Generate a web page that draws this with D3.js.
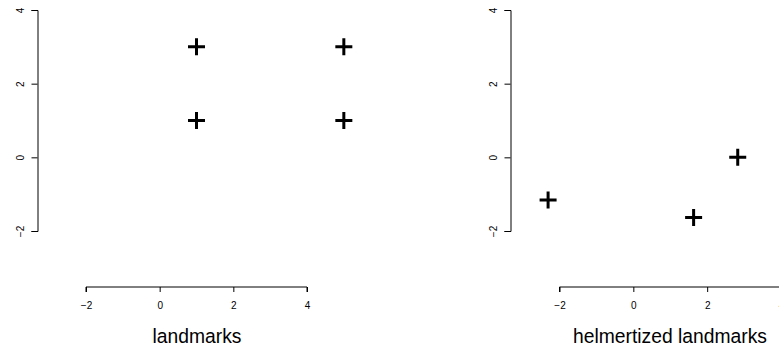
<!DOCTYPE html>
<html>
<head>
<meta charset="utf-8">
<script src="https://cdn.jsdelivr.net/npm/d3@7"></script>
<style>
  html, body { margin: 0; padding: 0; background: #fff; }
  svg { display: block; font-family: "Liberation Sans", Arial, Helvetica, sans-serif; }
</style>
</head>
<body>
<svg id="chart" width="779" height="353"></svg>
<script>
// landmarks (x, y)
const landmarkX = [1, 5, 5, 1];
const landmarkY = [3, 3, 1, 1];

// helmertized landmarks (x, y)
const helmertX = [2.828, 1.633, -2.309];
const helmertY = [0, -1.633, -1.155];

const tickValues = [-2, 0, 2, 4];
const titles = ["landmarks", "helmertized landmarks"];

const svg = d3.select("#chart");
const fontFam = "Liberation Sans, Arial, Helvetica, sans-serif";

// panel layout: x range for the -2..4 axis, y-axis position, title centre
const panels = [
  { xs: landmarkX, ys: landmarkY, xRange: [86, 307], yAxisX: 37.5, titleX: 197, title: titles[0] },
  { xs: helmertX, ys: helmertY, xRange: [559.5, 781], yAxisX: 510.5, titleX: 670, title: titles[1] }
];

const y = d3.scaleLinear().domain([-2, 4]).range([231, 10]);
const xAxisY = 287;
const fmt = d => d < 0 ? "\u2212" + Math.abs(d) : d;

panels.forEach(p => {
  const x = d3.scaleLinear().domain([-2, 4]).range(p.xRange);
  const g = svg.append("g");

  // y axis
  const ya = g.append("g").attr("transform", `translate(${p.yAxisX},0)`);
  ya.call(d3.axisLeft(y).tickValues(tickValues).tickSize(6).tickPadding(0).tickFormat(d => ""));
  ya.attr("font-family", fontFam);
  ya.selectAll("path, line").attr("stroke", "#000");
  ya.selectAll(".tick").append("text")
    .attr("transform", "translate(-17,0) rotate(-90)")
    .attr("text-anchor", "middle")
    .attr("dy", "0.35em")
    .attr("font-size", 10)
    .attr("fill", "#000")
    .text(fmt);

  // x axis
  const xa = g.append("g").attr("transform", `translate(0,${xAxisY})`);
  xa.call(d3.axisBottom(x).tickValues(tickValues).tickSize(5).tickPadding(0).tickFormat(d => ""));
  xa.attr("font-family", fontFam);
  xa.selectAll("path, line").attr("stroke", "#000");
  xa.selectAll(".tick").append("text")
    .attr("y", 22)
    .attr("text-anchor", "middle")
    .attr("font-size", 10)
    .attr("fill", "#000")
    .text(fmt);
  xa.select(".domain").attr("d", `M${p.xRange[0]},5V0H${p.xRange[1]}V5`);

  // crosses
  const pts = p.xs.map((v, i) => [v, p.ys[i]]);
  const s = 8.5;
  g.append("g").selectAll("path").data(pts).join("path")
    .attr("d", d => {
      const cx = x(d[0]), cy = y(d[1]);
      return `M${cx - s},${cy}H${cx + s}M${cx},${cy - s}V${cy + s}`;
    })
    .attr("stroke", "#000")
    .attr("stroke-width", 3)
    .attr("fill", "none");

  // title
  g.append("text")
    .attr("x", p.titleX)
    .attr("y", 343)
    .attr("text-anchor", "middle")
    .attr("font-size", 19.3)
    .attr("fill", "#000")
    .text(p.title);
});
</script>
</body>
</html>
